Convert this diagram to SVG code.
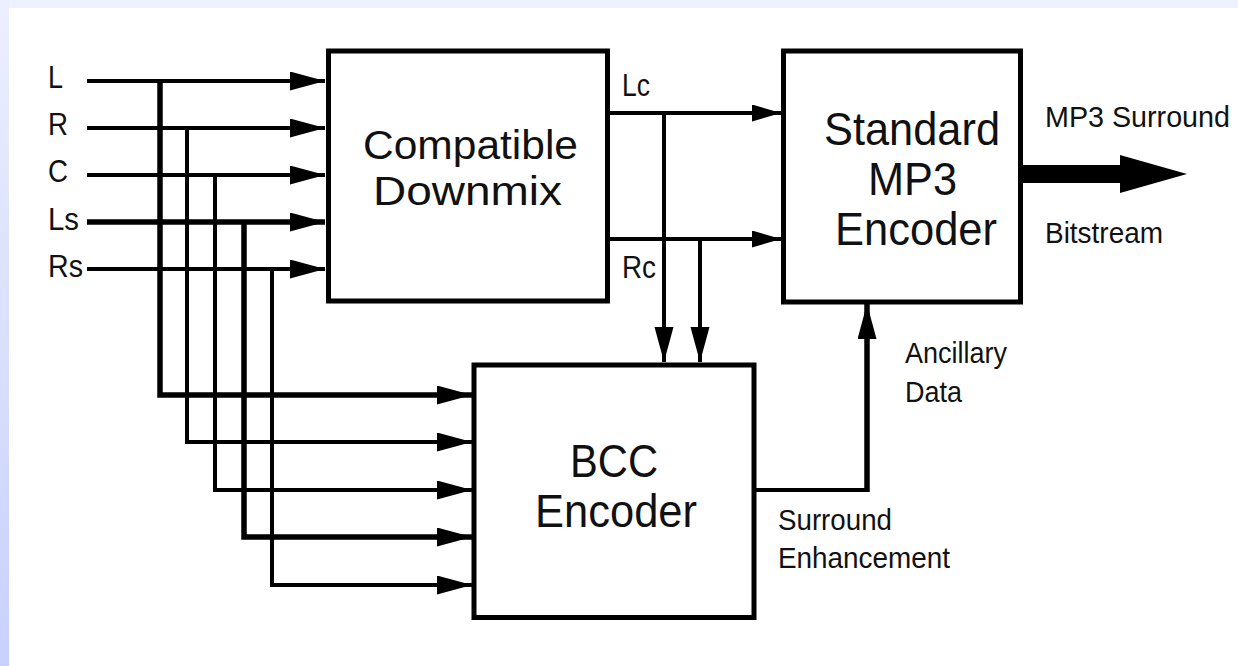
<svg xmlns="http://www.w3.org/2000/svg" width="1238" height="666" viewBox="0 0 1238 666">
<defs>
<linearGradient id="side" x1="0" y1="0" x2="0" y2="1">
<stop offset="0" stop-color="#EBEFFE"/>
<stop offset="1" stop-color="#C8D0FE"/>
</linearGradient>
<marker id="arr" markerUnits="userSpaceOnUse" markerWidth="36" markerHeight="20" refX="35" refY="9.5" orient="auto">
<path d="M0,0 L35,9.5 L0,19 Z" fill="#000"/>
</marker>
<marker id="arrs" markerUnits="userSpaceOnUse" markerWidth="30" markerHeight="18" refX="29" refY="8.5" orient="auto">
<path d="M0,0 L29,8.5 L0,17 Z" fill="#000"/>
</marker>
<style>
.box{fill:#fff;stroke:#000;stroke-width:5}
.t{font-family:"Liberation Sans",Arial,Helvetica,sans-serif;fill:#111}
.big{font-size:46px}
.mid{font-size:41px}
.lab{font-size:31px}
.sm{font-size:29px}
.w{fill:none;stroke:#000;stroke-width:4}
.k{fill:none;stroke:#000;stroke-width:5.5}
</style>
</defs>
<rect x="0" y="0" width="1238" height="666" fill="#fff"/>
<rect x="0" y="0" width="1238" height="8" fill="#EEF2FE"/>
<rect x="0" y="0" width="9" height="666" fill="url(#side)"/>

<g id="connectors">
<path class="w" d="M87,81 H325" marker-end="url(#arr)"/>
<path class="w" d="M87,128 H325" marker-end="url(#arr)"/>
<path class="w" d="M87,175 H325" marker-end="url(#arr)"/>
<path class="k" d="M87,222 H325" marker-end="url(#arr)"/>
<path class="w" d="M87,269 H325" marker-end="url(#arr)"/>
<path class="k" d="M160,81 V395 H472" marker-end="url(#arr)"/>
<path class="w" d="M187,128 V442 H472" marker-end="url(#arr)"/>
<path class="w" d="M215,175 V490 H472" marker-end="url(#arr)"/>
<path class="k" d="M244,222 V537 H472" marker-end="url(#arr)"/>
<path class="w" d="M272,269 V585 H472" marker-end="url(#arr)"/>
<path class="w" d="M609,113 H781" marker-end="url(#arrs)"/>
<path class="w" d="M609,239 H781" marker-end="url(#arrs)"/>
<path class="w" d="M664,113 V362" marker-end="url(#arr)"/>
<path class="w" d="M700,239 V362" marker-end="url(#arr)"/>
<path class="w" d="M756,490 H869"/>
<path class="k" d="M867,492 V304" marker-end="url(#arr)"/>
<rect x="1022" y="165" width="100" height="18" fill="#000"/>
<path d="M1120,155 L1187,174 L1120,193 Z" fill="#000"/>
</g>

<g id="compatible-downmix">
<rect class="box" x="328.5" y="51" width="279" height="250"/>
<text class="t mid" x="363" y="159" textLength="215" lengthAdjust="spacingAndGlyphs">Compatible</text>
<text class="t mid" x="373" y="205" textLength="189" lengthAdjust="spacingAndGlyphs">Downmix</text>
</g>

<g id="mp3-encoder">
<rect class="box" x="783.5" y="51" width="237" height="251"/>
<text class="t big" x="824" y="145" textLength="176" lengthAdjust="spacingAndGlyphs">Standard</text>
<text class="t big" x="868" y="195" textLength="89" lengthAdjust="spacingAndGlyphs">MP3</text>
<text class="t big" x="835" y="245" textLength="162" lengthAdjust="spacingAndGlyphs">Encoder</text>
</g>

<g id="bcc-encoder">
<rect class="box" x="474" y="365" width="280" height="252.5"/>
<text class="t big" x="570" y="477" textLength="88" lengthAdjust="spacingAndGlyphs">BCC</text>
<text class="t big" x="535" y="527" textLength="162" lengthAdjust="spacingAndGlyphs">Encoder</text>
</g>

<g id="labels">
<text class="t lab" x="48" y="88" textLength="15" lengthAdjust="spacingAndGlyphs">L</text>
<text class="t lab" x="48" y="135" textLength="20" lengthAdjust="spacingAndGlyphs">R</text>
<text class="t lab" x="48" y="182" textLength="20" lengthAdjust="spacingAndGlyphs">C</text>
<text class="t lab" x="48" y="230" textLength="31" lengthAdjust="spacingAndGlyphs">Ls</text>
<text class="t lab" x="48" y="277" textLength="35" lengthAdjust="spacingAndGlyphs">Rs</text>
<text class="t lab" x="622" y="96" textLength="28" lengthAdjust="spacingAndGlyphs">Lc</text>
<text class="t lab" x="622" y="278" textLength="34" lengthAdjust="spacingAndGlyphs">Rc</text>
<text class="t sm" x="1045" y="127" textLength="185" lengthAdjust="spacingAndGlyphs">MP3 Surround</text>
<text class="t sm" x="1045" y="243" textLength="118" lengthAdjust="spacingAndGlyphs">Bitstream</text>
<text class="t sm" x="905" y="363" textLength="102" lengthAdjust="spacingAndGlyphs">Ancillary</text>
<text class="t sm" x="905" y="402" textLength="57" lengthAdjust="spacingAndGlyphs">Data</text>
<text class="t sm" x="778" y="530" textLength="114" lengthAdjust="spacingAndGlyphs">Surround</text>
<text class="t sm" x="778" y="568" textLength="172" lengthAdjust="spacingAndGlyphs">Enhancement</text>
</g>
</svg>
